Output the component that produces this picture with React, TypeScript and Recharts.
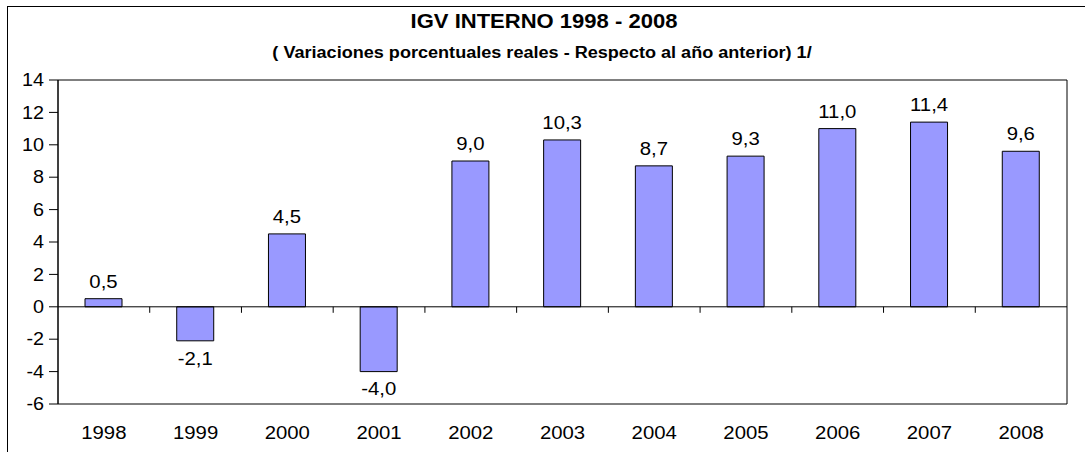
import React from "react";
import {
  BarChart,
  Bar,
  XAxis,
  YAxis,
  ReferenceLine,
  ReferenceArea,
  LabelList,
} from "recharts";

const years = ["1998", "1999", "2000", "2001", "2002", "2003", "2004", "2005", "2006", "2007", "2008"];
const values = [0.5, -2.1, 4.5, -4.0, 9.0, 10.3, 8.7, 9.3, 11.0, 11.4, 9.6];
const yTicks = [-6, -4, -2, 0, 2, 4, 6, 8, 10, 12, 14];
const title = "IGV INTERNO 1998 - 2008";
const subtitle = "( Variaciones porcentuales reales - Respecto al año anterior) 1/";

const data = years.map((y, i) => ({ year: y, value: values[i] }));

const FONT = "'Liberation Sans', Arial, sans-serif";
const SX = 1.13;
const W = 1085;
const H = 452;

const fmt = (v: number) => v.toFixed(1).replace(".", ",");

const XTick = (props: any) => {
  const { x, y, payload } = props;
  return (
    <g transform={`translate(${x},${y}) scale(${SX},1)`}>
      <text x={0} y={0} dy="0.71em" textAnchor="middle" fontSize={18} fontFamily={FONT} fill="#000">
        {payload.value}
      </text>
    </g>
  );
};

const YTick = (props: any) => {
  const { x, y, payload } = props;
  return (
    <g transform={`translate(${x},${y}) scale(${SX},1)`}>
      <text x={0} y={0} dy="0.355em" textAnchor="end" fontSize={17.5} fontFamily={FONT} fill="#000">
        {payload.value}
      </text>
    </g>
  );
};

const ValueLabel = (props: any) => {
  const { x, y, width, height, value } = props;
  const top = Math.min(y, y + height);
  const bottom = Math.max(y, y + height);
  const cx = x + width / 2;
  const neg = value < 0;
  const ty = neg ? bottom + 11 : top - 11;
  return (
    <g transform={`translate(${cx},${ty}) scale(${SX},1)`}>
      <text x={0} y={0} dy={neg ? "0.71em" : "0"} textAnchor="middle" fontSize={18} fontFamily={FONT} fill="#000">
        {fmt(value)}
      </text>
    </g>
  );
};

const ZeroLine = (props: any) => {
  const { x1, y1, x2, y2 } = props;
  const n = years.length;
  const step = (x2 - x1) / n;
  const ticks = [];
  for (let i = 1; i < n; i++) {
    const tx = x1 + step * i;
    ticks.push(<line key={i} x1={tx} x2={tx} y1={y1} y2={y1 + 6} stroke="#000" strokeWidth={1} />);
  }
  return (
    <g>
      <line x1={x1} y1={y1} x2={x2} y2={y2} stroke="#000" strokeWidth={1} />
      {ticks}
    </g>
  );
};

export default function App() {
  return (
    <div style={{ position: "absolute", left: 0, top: 0, width: W, height: H, overflow: "hidden", background: "#fff" }}>
      <BarChart
        width={W}
        height={H}
        data={data}
        margin={{ top: 80, right: 18, bottom: 0, left: 0 }}
        barSize={37}
      >
        <XAxis
          dataKey="year"
          axisLine={false}
          tickLine={false}
          tickSize={0}
          tickMargin={22}
          height={48}
          tick={<XTick />}
          interval={0}
        />
        <YAxis
          domain={[-6, 14]}
          ticks={yTicks}
          width={58}
          axisLine={{ stroke: "#000" }}
          tickLine={{ stroke: "#000" }}
          tickSize={9}
          tickMargin={5}
          tick={<YTick />}
          interval={0}
          allowDataOverflow
        />
        <ReferenceArea y1={-6} y2={14} fill="none" stroke="#000" strokeWidth={1} fillOpacity={0} ifOverflow="visible" />
        <ReferenceLine y={0} shape={<ZeroLine />} ifOverflow="visible" />
        <Bar dataKey="value" fill="#9999FF" stroke="#000" strokeWidth={1} isAnimationActive={false}>
          <LabelList dataKey="value" content={<ValueLabel />} />
        </Bar>
      </BarChart>
      <svg width={W} height={H} style={{ position: "absolute", left: 0, top: 0, pointerEvents: "none" }}>
        <rect x={7.5} y={6.5} width={W + 20} height={H + 20} fill="none" stroke="#000" strokeWidth={1} />
        <g transform={`translate(544,28) scale(${SX},1)`}>
          <text x={0} y={0} textAnchor="middle" fontSize={19.5} fontWeight="bold" fontFamily={FONT} fill="#000">
            {title}
          </text>
        </g>
        <g transform={`translate(542,58) scale(${SX},1)`}>
          <text x={0} y={0} textAnchor="middle" fontSize={16} fontWeight="bold" fontFamily={FONT} fill="#000">
            {subtitle}
          </text>
        </g>
      </svg>
    </div>
  );
}
